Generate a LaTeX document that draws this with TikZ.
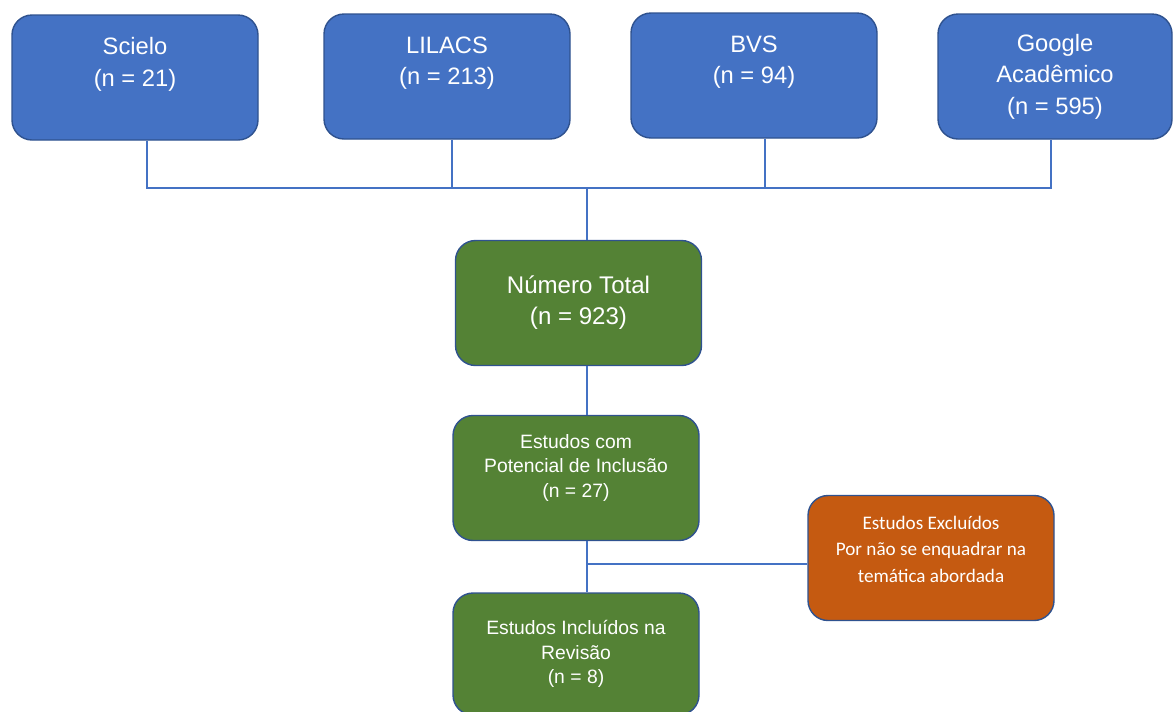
\documentclass[tikz,border=0pt]{standalone}
\usepackage{fontspec}
\setmainfont{Liberation Sans}
\newfontfamily\calibrifont{Carlito}
\usepackage{tikz}
\usetikzlibrary{positioning}

\definecolor{boxblue}{HTML}{4472C4}
\definecolor{edgeblue}{HTML}{2F528F}
\definecolor{boxgreen}{HTML}{548235}
\definecolor{boxorange}{HTML}{C55A11}

\begin{document}
\begin{tikzpicture}[
    base/.style = {draw=edgeblue, line width=0.8pt, rounded corners=0.4cm,
                   minimum width=4.92cm, minimum height=2.5cm,
                   text=white, align=center, inner sep=2pt},
    source/.style = {base, fill=boxblue, font=\fontsize{13.5}{18}\selectfont},
    stage/.style = {base, fill=boxgreen, font=\fontsize{11}{13.8}\selectfont},
    dropped/.style = {base, fill=boxorange, font=\calibrifont\fontsize{10.9}{15}\selectfont},
    link/.style = {draw=boxblue, line width=0.7pt}
  ]
        \useasboundingbox (0,0) rectangle (23.48,-14.22);

        \coordinate (S) at (2.70,-1.55);
        \coordinate (L) at (8.94,-1.53);
        \coordinate (B) at (15.08,-1.51);
        \coordinate (G) at (21.10,-1.53);

        \node[source] (scielo) at (S) {Scielo\\(n = 21)\\\mbox{}};
        \node[source] (lilacs) at (L) {LILACS\\(n = 213)\\\mbox{}};
        \node[source] (bvs) at (B) {BVS\\(n = 94)\\\mbox{}};
        \node[source,minimum width=4.68cm] (google) at (G) {Google\\Acadêmico\\(n = 595)};

        %############################################

        \coordinate (hub) at (11.74,-3.76);

        \node[stage,font=\fontsize{13.7}{17.6}\selectfont] (total) at (11.57,-6.06) {Número Total\\(n = 923)};
        \node[stage] (potencial) at (11.52,-9.56) {Estudos com\\Potencial de Inclusão\\(n = 27)\\\mbox{}};
        \node[stage,minimum height=2.44cm] (incluidos) at (11.52,-13.08) {Estudos Incluídos na\\Revisão\\(n = 8)};
        \node[dropped] (excluidos) at (18.62,-11.16) {Estudos Excluídos\\Por não se enquadrar na\\temática abordada\\[-5pt]\mbox{}};

        \draw[link] ([xshift=0.24cm]scielo.south) |- (hub);
        \draw[link] ([xshift=0.10cm]lilacs.south) |- (hub);
        \draw[link] ([xshift=0.22cm]bvs.south) |- (hub);
        \draw[link] ([xshift=-0.08cm]google.south) |- (hub);
        \draw[link] (hub) -- (hub |- total.north);
        \draw[link] (hub |- total.south) -- (hub |- potencial.north);
        \draw[link] (hub |- potencial.south) -- (hub |- incluidos.north);
        \draw[link] ([yshift=-0.12cm]excluidos.west) -- ([yshift=-0.12cm]excluidos.west -| hub);
    \end{tikzpicture}
\end{document}
